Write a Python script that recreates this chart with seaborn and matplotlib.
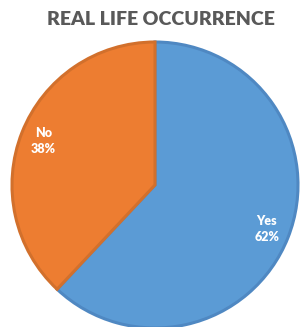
import matplotlib
matplotlib.use("Agg")
import matplotlib.pyplot as plt
import seaborn as sns

labels = ["Yes", "No"]
shares = [62, 38]
fills = ["#5B9BD5", "#ED7D31"]
edges = ["#4F88C2", "#D2702C"]

sns.set_style("white")
plt.rcParams['font.family'] = ['Lato', 'DejaVu Sans']

fig = plt.figure(figsize=(3.02, 3.27), dpi=100)
ax = fig.add_axes([0, 0, 1, 1])

radius = 143
wedges, texts, autotexts = ax.pie(
    shares, colors=fills, startangle=90, counterclock=False,
    radius=radius, autopct="%1.0f%%", pctdistance=0.84,
    wedgeprops=dict(linewidth=2.2),
    textprops=dict(color="white", fontweight="heavy", fontsize=9))

for w, e in zip(wedges, edges):
    w.set_edgecolor(e)

for t, lab in zip(autotexts, labels):
    t.set_text(lab + "\n" + t.get_text())
    t.set_linespacing(1.45)

ax.set_aspect("equal")
ax.set_xlim(-155, 147)
ax.set_ylim(-142, 185)
ax.axis("off")

fig.text(0.533, 0.939, "REAL LIFE OCCURRENCE", ha="center", va="center",
         fontsize=14, fontweight="heavy", color="#595959")

fig.savefig("out.png", dpi=100)
